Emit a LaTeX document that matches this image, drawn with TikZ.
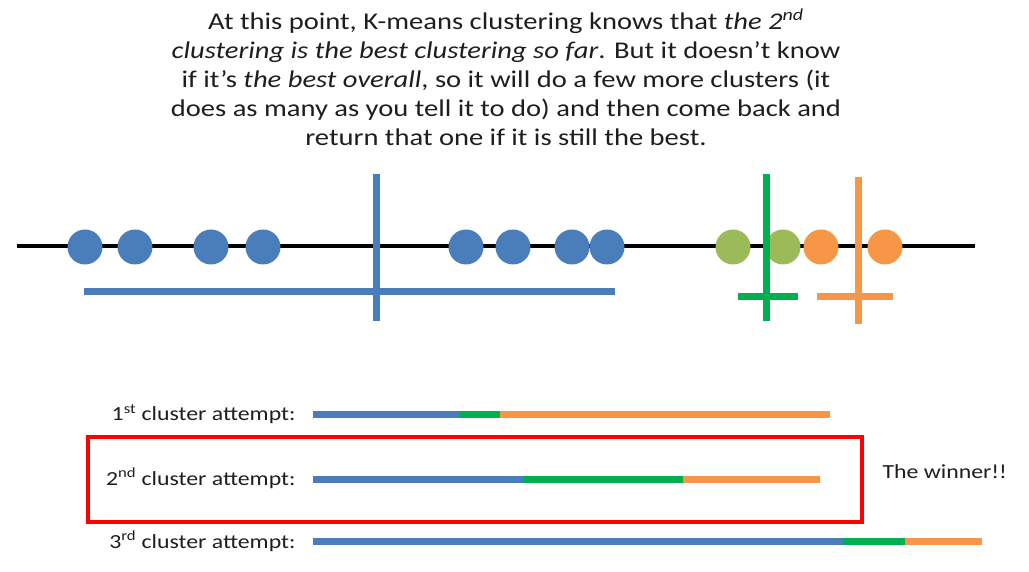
\documentclass[tikz,border=0pt]{standalone}
\usepackage{fontspec}
\setmainfont[FakeStretch=1.19]{Carlito}
\usepackage{tikz}

\definecolor{kblue}{HTML}{4A7EBB}
\definecolor{kgreen}{HTML}{00B050}
\definecolor{kolive}{HTML}{9BBB59}
\definecolor{korange}{HTML}{F79646}
\definecolor{txtgray}{HTML}{1E1E1E}

\begin{document}
\begin{tikzpicture}
                [x=1pt,y=-1pt,
                dot/.style={circle,fill=#1,inner sep=0pt,minimum size=35pt},
                cut/.style={line width=7pt,draw=#1},
                bar/.style={line width=7pt},
                attempt/.style={anchor=east,text=txtgray,font=\fontsize{20}{23}\selectfont}]
                \useasboundingbox (0,0) rectangle (1029,572);
                \node[align=center,text=txtgray,font=\fontsize{24}{29}\selectfont] (intro) at (506,77)
                {At this point, K-means clustering knows that \textit{the 2\textsuperscript{nd}}\\
                \textit{clustering is the best clustering so far}. But it doesn’t know\\
                if it’s \textit{the best overall}, so it will do a few more clusters (it\\
                does as many as you tell it to do) and then come back and\\
                return that one if it is still the best.};
                \draw[line width=4pt] (17,246) -- (975,246);
                \foreach \x/\n in {85/b1,135/b2,211/b3,263/b4,466/b5,513/b6,572/b7,607/b8}
                \node[dot=kblue] (\n) at (\x,247) {};
                \node[dot=kolive] (g1) at (733,247) {};
                \node[dot=kolive] (g2) at (783,247) {};
                \node[dot=korange] (o1) at (821,247) {};
                \node[dot=korange] (o2) at (885,247) {};
                \draw[cut=kblue] (84,292) -- (615,292);
                \draw[cut=kblue] (376,174) -- (376,321);
                \draw[cut=kgreen] (738,297) -- (798,297);
                \draw[cut=kgreen] (766,174) -- (766,321);
                \draw[cut=korange] (817,297) -- (893,297);
                \draw[cut=korange] (858,177) -- (858,324);
                \node[attempt] (try1) at (299,414) {1\textsuperscript{st} cluster attempt:};
                \node[attempt] (try2) at (299,478) {2\textsuperscript{nd} cluster attempt:};
                \node[attempt] (try3) at (299,541) {3\textsuperscript{rd} cluster attempt:};
                \draw[bar,kblue] (313,414) -- (460,414);
                \draw[bar,kgreen] (460,414) -- (500,414);
                \draw[bar,korange] (500,414) -- (830,414);
                \draw[bar,kblue] (313,479) -- (523,479);
                \draw[bar,kgreen] (523,479) -- (683,479);
                \draw[bar,korange] (683,479) -- (820,479);
                \draw[bar,kblue] (313,541) -- (843,541);
                \draw[bar,kgreen] (843,541) -- (905,541);
                \draw[bar,korange] (905,541) -- (982,541);
                \draw[red,line width=4pt] (88,437) rectangle (862,522);
                \node[attempt,anchor=west] (winner) at (879,472) {The winner!!};
\end{tikzpicture}
\end{document}
